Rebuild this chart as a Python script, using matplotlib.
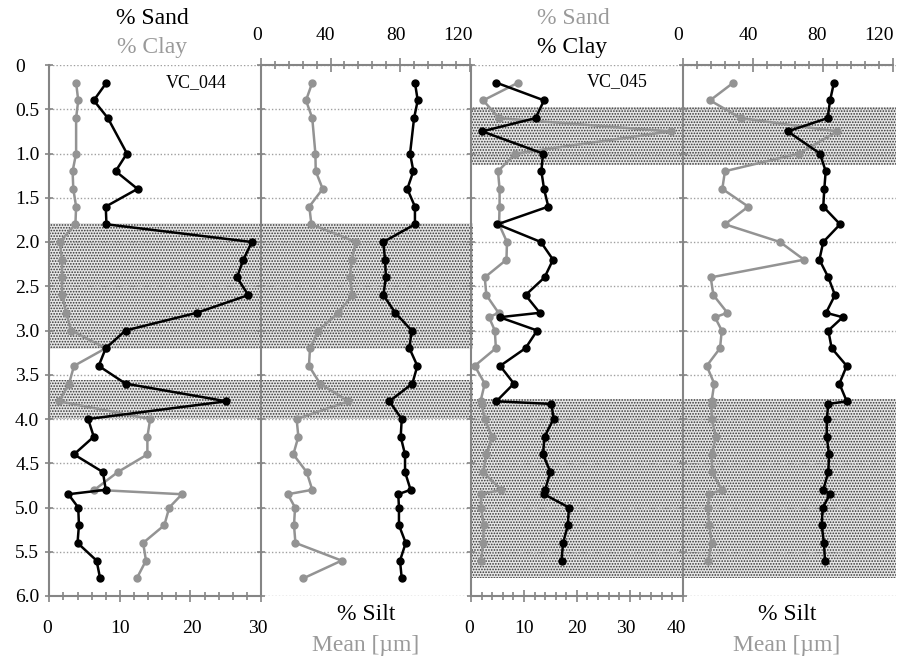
import matplotlib
matplotlib.use("Agg")
import matplotlib.pyplot as plt
import matplotlib.transforms as mtransforms
from matplotlib.ticker import MultipleLocator, FuncFormatter

plt.rcParams['font.family'] = ['Liberation Serif', 'DejaVu Serif']
plt.rcParams['hatch.linewidth'] = 0.8

# ---------------- VC_044 ----------------
depth44 = [0.2, 0.4, 0.6, 1.0, 1.2, 1.4, 1.6, 1.8, 2.0, 2.2, 2.4, 2.6, 2.8, 3.0, 3.2,
           3.4, 3.6, 3.8, 4.0, 4.2, 4.4, 4.6, 4.8, 4.85, 5.0, 5.2, 5.4, 5.6, 5.8]
sand44 = [8.1, 6.3, 8.3, 11.0, 9.4, 12.5, 8.0, 8.1, 28.7, 27.5, 26.6, 28.2, 20.9, 10.8, 8.0,
          7.0, 10.8, 25.1, 5.5, 6.3, 3.5, 7.6, 8.0, 2.7, 4.1, 4.2, 4.0, 6.7, 7.2]
clay44 = [3.8, 4.1, 3.8, 3.8, 3.3, 3.4, 3.8, 3.7, 1.5, 1.8, 1.8, 1.8, 2.4, 3.1, 8.0,
          3.5, 2.8, 1.4, 14.3, 13.9, 13.9, 9.7, 6.4, 18.8, 17.0, 16.3, 13.3, 13.7, 12.4]
silt44 = [88.6, 90.2, 88.1, 85.8, 87.7, 84.2, 88.6, 88.6, 70.4, 71.4, 71.9, 70.4, 77.3, 86.7, 85.4,
          90.0, 87.1, 73.9, 81.0, 80.4, 82.9, 82.9, 86.1, 79.0, 79.4, 79.4, 83.3, 80.0, 81.0]
mean44 = [29.5, 25.9, 29.5, 31.3, 31.5, 35.5, 27.8, 29.0, 54.7, 52.2, 51.2, 52.6, 44.5, 33.0, 28.2,
          27.6, 34.0, 50.3, 20.5, 21.5, 18.6, 26.3, 29.5, 15.4, 19.6, 19.0, 19.8, 46.4, 24.4]
bands44 = [(1.78, 3.21), (3.56, 4.0)]

# ---------------- VC_045 ----------------
depth45 = [0.2, 0.4, 0.6, 0.75, 1.0, 1.2, 1.4, 1.6, 1.8, 2.0, 2.2, 2.4, 2.6, 2.8, 2.85, 3.0,
           3.2, 3.4, 3.6, 3.8, 3.83, 4.0, 4.2, 4.4, 4.6, 4.8, 4.85, 5.0, 5.2, 5.4, 5.6]
sand45 = [8.9, 2.3, 5.3, 37.7, 8.4, 5.1, 5.4, 5.4, 5.3, 6.8, 6.7, 2.6, 2.9, 5.2, 3.4, 4.5,
          4.7, 0.7, 2.6, 1.8, 2.0, 2.6, 4.0, 2.9, 2.3, 5.7, 1.9, 1.9, 2.4, 2.3, 1.9]
clay45 = [4.8, 13.8, 12.2, 2.1, 13.6, 13.3, 13.8, 14.6, 5.0, 13.2, 15.5, 13.9, 10.3, 13.0, 5.4, 12.5,
          10.3, 5.5, 8.1, 4.8, 15.2, 15.6, 13.9, 13.6, 15.0, 14.0, 13.8, 18.5, 18.3, 17.4, 17.1]
silt45 = [86.3, 84.1, 82.7, 59.9, 78.3, 81.6, 80.8, 80.2, 89.8, 80.2, 78.0, 83.1, 86.9, 81.8, 91.3, 83.1,
          85.0, 93.6, 89.4, 93.6, 83.1, 82.2, 82.2, 83.5, 83.1, 80.2, 84.1, 79.9, 79.3, 80.6, 81.2]
mean45 = [28.9, 15.6, 33.1, 88.2, 66.5, 24.1, 22.6, 37.4, 24.1, 55.5, 69.2, 16.0, 17.5, 25.5, 18.4, 22.3,
          21.3, 13.7, 18.0, 16.5, 16.5, 16.5, 19.0, 16.5, 16.9, 22.3, 15.2, 14.2, 15.2, 16.5, 14.6]
bands45 = [(0.47, 1.13), (3.77, 5.8)]

ticks_pct44 = [0, 10, 20, 30]
ticks_pct45 = [0, 10, 20, 30, 40]
ticks_top = [0, 40, 80, 120]

BLACK = '#000000'
GREY = '#939393'
TXTGREY = '#9a9a9a'
AXGREY = '#858585'

W, H = 899, 658
fig = plt.figure(figsize=(W / 100, H / 100), dpi=100)


def px_axes(x0, x1, y0=65, y1=596):
    # axes placed in pixel coords of the reference picture
    return fig.add_axes([x0 / W, 1 - y1 / H, (x1 - x0) / W, (y1 - y0) / H])


def panel(ax, xmax, bands, where, ticks, minor, ylabels=False):
    ax.set_facecolor('none')
    ax.set_ylim(6.0, 0)
    ax.set_xlim(0, xmax)
    for lo, hi in bands:   # stippled layers
        ax.axhspan(lo, hi, facecolor='#e6e6e6', edgecolor='#333333', hatch='......', lw=0, zorder=0)
    ax.yaxis.set_major_locator(MultipleLocator(0.5))
    ax.grid(axis='y', color='#a0a0a0', linestyle=(0, (1, 1.5)), lw=1.0, zorder=1)
    ax.set_axisbelow(True)
    for s in ax.spines.values():
        s.set_visible(False)
    for s in ('left', where):
        ax.spines[s].set_visible(True)
        ax.spines[s].set_color(AXGREY)
        ax.spines[s].set_linewidth(1.5)
    ax.set_xticks(ticks)
    ax.xaxis.set_minor_locator(MultipleLocator(minor))
    ax.xaxis.set_ticks_position(where)
    if where == 'bottom':
        ax.tick_params(axis='x', which='major', direction='inout', length=8, width=1.2,
                       color=AXGREY, labelsize=14, pad=13.5)
    else:
        ax.tick_params(axis='x', which='major', direction='inout', length=10, width=1.2,
                       color=AXGREY, labelsize=14, pad=9.8)
    ax.tick_params(axis='x', which='minor', direction='inout', length=5.8, width=1.2, color=AXGREY)
    ax.tick_params(axis='y', direction='inout', length=5.8, width=1.2, color=AXGREY,
                   labelsize=14, pad=4.3, labelleft=ylabels)
    ax.yaxis.set_major_formatter(FuncFormatter(lambda v, p: '0' if v == 0 else f'{v:.1f}'))


def curve(ax, x, y, c):
    ax.plot(x, y, color=c, lw=1.8, marker='o', ms=5, zorder=3, clip_on=False)


# panel 1: sand / clay VC_044
ax1 = px_axes(49.3, 261)
panel(ax1, 30, bands44, 'bottom', ticks_pct44, 2, ylabels=True)
curve(ax1, clay44, depth44, GREY)
curve(ax1, sand44, depth44, BLACK)
fig.text(196 / W, 1 - 82.5 / H, 'VC_044', ha='center', va='center', fontsize=13)

# panel 2: silt / mean VC_044
ax2 = px_axes(261, 473)
panel(ax2, 120 * 212 / 208.5, bands44, 'top', ticks_top, 8)
ax2.spines['top'].set_bounds(0, 120)
curve(ax2, mean44, depth44, GREY)
curve(ax2, silt44, depth44, BLACK)

# panel 3: sand / clay VC_045
ax3 = px_axes(471, 682.7)
panel(ax3, 40, bands45, 'bottom', ticks_pct45, 2)
curve(ax3, sand45, depth45, GREY)
curve(ax3, clay45, depth45, BLACK)
fig.text(617 / W, 1 - 81.5 / H, 'VC_045', ha='center', va='center', fontsize=13)

# panel 4: silt / mean VC_045
ax4 = px_axes(682.7, 896)
panel(ax4, 120 * (896 - 682.7) / 210.3, bands45, 'top', ticks_top, 8)
ax4.spines['top'].set_bounds(0, 120)
curve(ax4, mean45, depth45, GREY)
curve(ax4, silt45, depth45, BLACK)

# axis titles
def label(x, y, s, c):
    fig.text(x / W, 1 - y / H, s, ha='center', va='center', fontsize=17, color=c)

label(152, 19, '% Sand', BLACK)
label(152, 47, '% Clay', TXTGREY)
label(573, 19, '% Sand', TXTGREY)
label(572, 47, '% Clay', BLACK)
label(366, 614, '% Silt', BLACK)
label(366, 646, 'Mean [µm]', TXTGREY)
label(787, 614, '% Silt', BLACK)
label(787, 646, 'Mean [µm]', TXTGREY)

# nudge tick labels the way the original sits them (pixels)
fig.canvas.draw()


def nudge(axis, locs, shifts):
    for t, v in zip(axis.get_major_ticks(), locs):
        dx = shifts.get(v, 0)
        for lab in (t.label1, t.label2):
            lab.set_transform(lab.get_transform() +
                              mtransforms.ScaledTranslation(dx / 100, 0, fig.dpi_scale_trans))


nudge(ax1.xaxis, ax1.get_xticks(), {0: -2, 20: 2, 30: -3})
nudge(ax3.xaxis, ax3.get_xticks(), {0: -1.5, 30: -3.5, 40: -6.5})
nudge(ax2.xaxis, ax2.get_xticks(), {0: -4, 40: -5.5, 80: -4, 120: -12})
nudge(ax4.xaxis, ax4.get_xticks(), {0: -4.5, 40: -4.5, 80: -5.5, 120: -14})
nudge(ax1.yaxis, ax1.get_yticks(), {0: -14.6})

fig.savefig('out.png', dpi=100)
